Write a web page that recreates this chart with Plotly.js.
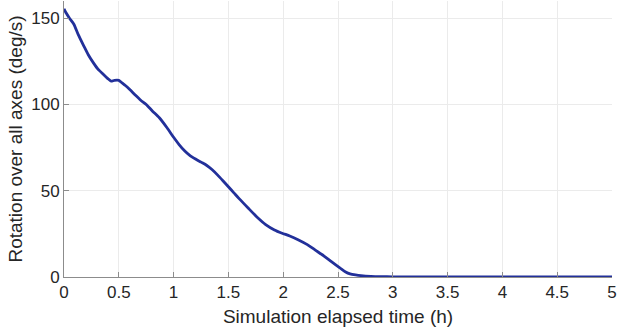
<!DOCTYPE html>
<html>
<head>
<meta charset="utf-8">
<script src="https://cdn.plot.ly/plotly-3.0.1.min.js"></script>
<style>html,body{margin:0;padding:0;background:#fff;}#chart{width:618px;height:335px;}</style>
</head>
<body>
<div id="chart"></div>
<script>
const timeHours = [0, 0.02, 0.05, 0.09, 0.13, 0.18, 0.22, 0.27, 0.31, 0.36, 0.40, 0.43, 0.46, 0.50, 0.53, 0.56, 0.60, 0.65, 0.70, 0.75, 0.81, 0.87, 0.94, 1.00, 1.05, 1.10, 1.15, 1.20, 1.25, 1.30, 1.35, 1.40, 1.45, 1.50, 1.55, 1.60, 1.68, 1.76, 1.84, 1.92, 1.99, 2.06, 2.14, 2.22, 2.29, 2.37, 2.44, 2.52, 2.57, 2.61, 2.66, 2.71, 2.80, 2.89, 3.0, 3.2, 3.5, 4.0, 4.5, 5.0];
const rotation = [155.5, 153, 150, 146.5, 140.5, 134, 129, 124, 120.5, 117.4, 115, 113.5, 114, 114, 112.5, 111, 108.7, 105.5, 102.5, 100, 96, 92.3, 86.5, 81, 76.8, 73.2, 70.4, 68.4, 66.6, 64.8, 62.3, 59.2, 55.8, 52.3, 48.8, 45.3, 40, 34.8, 30.4, 27.3, 25.4, 23.8, 21.5, 18.8, 15.7, 12.3, 8.9, 5.2, 2.9, 1.8, 1.2, 0.8, 0.4, 0.2, 0.1, 0.1, 0.1, 0.1, 0.1, 0.1];
const xTicks = [0, 0.5, 1, 1.5, 2, 2.5, 3, 3.5, 4, 4.5, 5];
const xTickLabels = ['0', '0.5', '1', '1.5', '2', '2.5', '3', '3.5', '4', '4.5', '5'];
const yTicks = [0, 50, 100, 150];
const yTickLabels = ['0', '50', '100', '150'];

const font = {family: 'Liberation Sans, Arial, sans-serif', size: 17, color: '#262626'};

Plotly.newPlot('chart', [{
  x: timeHours, y: rotation, type: 'scatter', mode: 'lines',
  line: {color: '#22309a', width: 2.8, shape: 'spline', smoothing: 0.6}
}], {
  width: 618, height: 335,
  margin: {l: 64, r: 6, t: 1, b: 58},
  paper_bgcolor: '#fff', plot_bgcolor: '#fff',
  showlegend: false,
  font: font,
  xaxis: {
    range: [0, 5], tickvals: xTicks, ticktext: xTickLabels,
    showgrid: true, gridcolor: '#ebebeb', gridwidth: 1,
    showline: true, linecolor: '#8c8c8c', linewidth: 1,
    ticks: 'inside', ticklen: 5, tickcolor: '#8c8c8c',
    ticklabeloverflow: 'allow',
    zeroline: false, tickfont: font,
    title: {text: 'Simulation elapsed time (h)', font: {family: font.family, size: 19, color: '#262626'}, standoff: 8}
  },
  yaxis: {
    range: [0, 160], tickvals: yTicks, ticktext: yTickLabels,
    showgrid: true, gridcolor: '#ebebeb', gridwidth: 1,
    showline: true, linecolor: '#8c8c8c', linewidth: 1,
    ticks: 'inside', ticklen: 5, tickcolor: '#8c8c8c',
    ticklabeloverflow: 'allow',
    zeroline: false, tickfont: font,
    title: {text: 'Rotation over all axes (deg/s)', font: {family: font.family, size: 19, color: '#262626'}, standoff: 3}
  }
}, {displayModeBar: false, staticPlot: true});
</script>
</body>
</html>
